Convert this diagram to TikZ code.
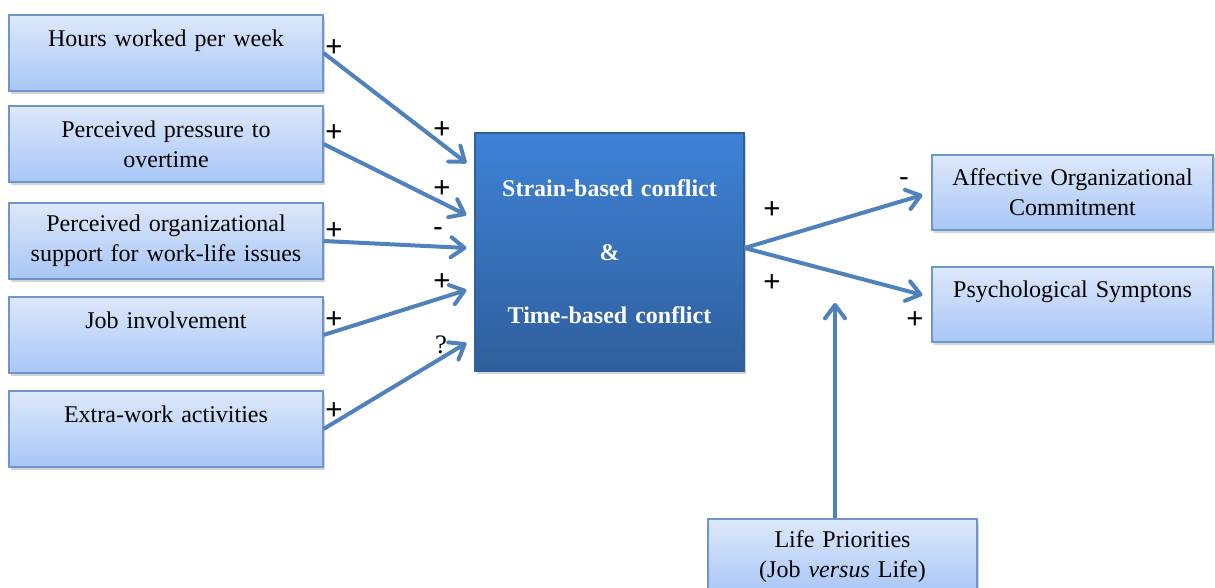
\documentclass[tikz,border=0pt]{standalone}
\usepackage{fontspec}
\setmainfont{Liberation Serif}
\newfontfamily\signfont{Liberation Sans}
\usepackage{xcolor}
\usepackage{tikz}
\usetikzlibrary{arrows.meta,shadows,calc}
\definecolor{boxtop}{HTML}{DDE8FB}
\definecolor{boxbottom}{HTML}{A8C6F6}
\definecolor{boxline}{HTML}{6E95CC}
\definecolor{coretop}{HTML}{3E82D6}
\definecolor{corebottom}{HTML}{2F5F9C}
\definecolor{arrowblue}{HTML}{4F81BD}
\tikzstyle{factor}=[rectangle,draw=boxline,line width=0.8pt,top color=boxtop,bottom color=boxbottom,inner sep=0pt,minimum width=235.5pt,minimum height=57pt,text width=222pt,align=center,font=\rmfamily\fontsize{18}{22.5}\selectfont,drop shadow={shadow xshift=1.5pt,shadow yshift=-2pt,opacity=0.35}]
\tikzstyle{outcome}=[factor,minimum width=210.75pt,minimum height=56.25pt,text width=200pt]
\tikzstyle{core}=[factor,draw=corebottom,top color=coretop,bottom color=corebottom,text=white,minimum width=201.75pt,minimum height=178.5pt,text width=190pt,font=\rmfamily\fontsize{18}{22.5}\selectfont\bfseries]
\tikzstyle{sign}=[inner sep=0pt,font=\signfont\fontsize{22}{24}\selectfont]
\tikzstyle{link}=[arrowblue,line width=3pt,-{Straight Barb[length=10pt,width=15pt,round]}]

\begin{document}
\begin{tikzpicture}[x=0.75pt,y=-0.75pt]
        \useasboundingbox (0,0) rectangle (1215,588);
        % causes
        \node at (166,53) [factor] (hours) {Hours worked per week\\\mbox{}};
        \node at (166,144) [factor] (pressure) {Perceived pressure to\\overtime};
        \node at (166,241) [factor] (support) {Perceived organizational\\support for work-life issues};
        \node at (166,335) [factor] (involve) {Job involvement\\\mbox{}};
        \node at (166,429) [factor] (extra) {Extra-work activities\\\mbox{}};
        % conflict and outcomes
        \node at (609.5,252) [core] (conflict) {Strain-based conflict\\[25pt]\&\\[25pt]Time-based conflict};
        \node at (1072.5,192.5) [outcome] (commit) {Affective Organizational\\Commitment};
        \node at (1072.5,304.5) [outcome] (symptoms) {Psychological Symptons\\\mbox{}};
        \node at (842.5,557) [factor,minimum width=201.75pt,text width=190pt] (priorities) {Life Priorities\\(Job \textit{versus} Life)};
        \coordinate (moderator) at (835,303);
        \draw [link] (hours.east) -- ($(conflict.west)+(-8,-89)$);
        \draw [link] (pressure.east) -- ($(conflict.west)+(-8,-37)$);
        \draw [link] (support.east) -- ($(conflict.west)+(-8,-4)$);
        \draw [link] (involve.east) -- ($(conflict.west)+(-8,38)$);
        \draw [link] (extra.east) -- ($(conflict.west)+(-8,91)$);
        \draw [link] ($(conflict.east)+(0,-4)$) -- ($(commit.west)+(-9,2.5)$);
        \draw [link] ($(conflict.east)+(0,-4)$) -- ($(symptoms.west)+(-9,-9.5)$);
        \draw [link] (priorities.north -| moderator) -- (moderator);
        % signs
        \node at (334,48) [sign] (s1) {+};
        \node at (334,133) [sign] (s2) {+};
        \node at (334,231) [sign] (s3) {+};
        \node at (334,320) [sign] (s4) {+};
        \node at (334,411) [sign] (s5) {+};
        \node at (442,130) [sign] (t1) {+};
        \node at (442,189) [sign] (t2) {+};
        \node at (438,232) [sign] (t3) {-};
        \node at (442,282) [sign] (t4) {+};
        \node at (441,345) [sign,font=\rmfamily\fontsize{20}{22}\selectfont] (t5) {?};
        \node at (772,210) [sign] (r1) {+};
        \node at (772,283) [sign] (r2) {+};
        \node at (904,182) [sign] (r3) {-};
        \node at (915,320) [sign] (r4) {+};
      \end{tikzpicture}
\end{document}
